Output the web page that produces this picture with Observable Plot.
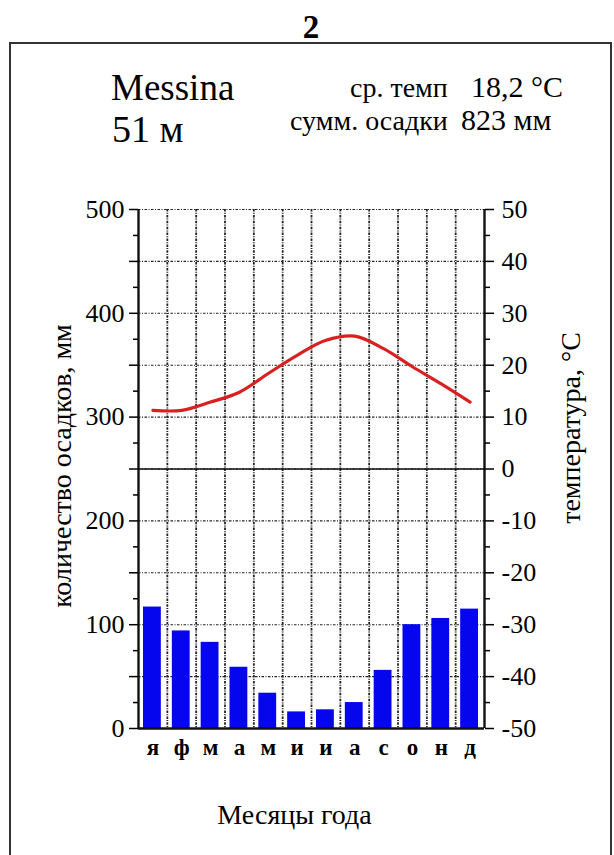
<!DOCTYPE html>
<html>
<head>
<meta charset="utf-8">
<script src="https://cdn.jsdelivr.net/npm/d3@7"></script>
<script src="https://cdn.jsdelivr.net/npm/@observablehq/plot@0.6"></script>
<style>
  html, body { margin: 0; padding: 0; background: #fff; }
  body { width: 614px; height: 855px; position: relative; overflow: hidden; font-family: "Liberation Serif", "DejaVu Serif", serif; color: #000; }
  .abs { position: absolute; white-space: nowrap; line-height: 1; font-family: "Liberation Serif", serif; }
  #box { position: absolute; left: 9px; top: 42px; width: 603px; height: 830px; border: 2px solid #333; box-sizing: border-box; }
  #chart { position: absolute; left: 0; top: 170px; }
  #chart svg, #chart svg text { font-family: "Liberation Serif", serif !important; }
</style>
</head>
<body>
<div class="abs" style="left:0;width:622px;text-align:center;top:11px;font-size:33px;font-weight:bold;">2</div>
<div id="box"></div>
<div class="abs" style="left:111px;top:69px;font-size:37px;">Messina</div>
<div class="abs" style="left:112px;top:110px;font-size:38px;">51 м</div>
<div class="abs" style="left:350px;top:74px;font-size:28px;">ср. темп</div>
<div class="abs" style="left:471px;top:72px;font-size:30px;">18,2 °C</div>
<div class="abs" style="left:290px;top:107px;font-size:28px;">сумм. осадки</div>
<div class="abs" style="left:461px;top:105px;font-size:30px;">823 мм</div>
<div id="chart"></div>
<script>
const months = ["я", "ф", "м", "а", "м", "и", "и", "а", "с", "о", "н", "д"];
const precipitation = [117, 94, 83, 59, 34, 16, 18, 25, 56, 100, 106, 115];
const temperature = [11.3, 11.3, 12.9, 14.8, 18.4, 21.9, 24.8, 25.6, 23.2, 19.7, 16.4, 12.9];
const precipTicks = [0, 100, 200, 300, 400, 500];
const tempTicks = [-50, -40, -30, -20, -10, 0, 10, 20, 30, 40, 50];

// precipitation (mm) = 5 * temperature + 250
const toMM = t => 5 * t + 250;
const fromMM = mm => (mm - 250) / 5;

const gridMM = tempTicks.map(toMM);
const minorMM = d3.range(-45, 50, 10).map(toMM);
const serif = "Liberation Serif";

const chart = Plot.plot({
  width: 614,
  height: 685,
  marginLeft: 138,
  marginRight: 130,
  marginTop: 39,
  marginBottom: 127,
  x: {domain: [0, 12], axis: null},
  y: {domain: [0, 500], axis: null},
  style: {fontFamily: serif, fontSize: "21px", color: "#000", background: "transparent", overflow: "visible"},
  marks: [
    // dotted grid
    Plot.ruleY(gridMM, {stroke: "#222", strokeWidth: 1.1, strokeDasharray: "2.5,1.5,1,1.5"}),
    Plot.ruleX(d3.range(1, 12), {stroke: "#222", strokeWidth: 1.8, strokeDasharray: "2.5,1.2,1,1.2"}),
    // precipitation bars
    Plot.rectY(precipitation, {x1: (d, i) => i, x2: (d, i) => i + 1, y1: 0, y2: d => d, fill: "#0505ee", insetLeft: 5, insetRight: 6}),
    // 0 °C line
    Plot.ruleY([toMM(0)], {stroke: "#111", strokeWidth: 1.6}),
    // axis lines
    Plot.ruleX([0, 12], {stroke: "#111", strokeWidth: 2.4}),
    Plot.ruleY([0], {stroke: "#111", strokeWidth: 2.6}),
    // left axis (precipitation)
    Plot.axisY({anchor: "left", ticks: gridMM, tickSize: 9, tickPadding: 5, strokeWidth: 1.5,
      tickFormat: d => precipTicks.includes(d) ? String(d) : "", label: null, fontSize: 26, fontFamily: serif}),
    Plot.axisY({anchor: "left", ticks: minorMM, tickSize: 5, tickPadding: 2, strokeWidth: 1.5,
      tickFormat: () => "", label: null}),
    // right axis (temperature)
    Plot.axisY({anchor: "right", ticks: gridMM, tickSize: 9, tickPadding: 8, strokeWidth: 1.5,
      tickFormat: d => String(fromMM(d)), label: null, fontSize: 26, fontFamily: serif}),
    Plot.axisY({anchor: "right", ticks: minorMM, tickSize: 5, tickPadding: 2, strokeWidth: 1.5,
      tickFormat: () => "", label: null}),
    // temperature line
    Plot.line(temperature, {x: (d, i) => i + 0.5, y: d => toMM(d), stroke: "#d82020", strokeWidth: 3.2, curve: "catmull-rom"}),
    // month labels
    Plot.text(months, {x: (d, i) => i + 0.5, frameAnchor: "bottom", dy: 26, fontSize: 23, fontWeight: "bold", fontFamily: serif, text: d => d}),
    // axis titles
    Plot.text(["количество осадков, мм"], {frameAnchor: "left", textAnchor: "middle", rotate: -90, dx: -76, dy: -3, fontSize: 28, fontFamily: serif}),
    Plot.text(["температура, °C"], {frameAnchor: "right", textAnchor: "middle", rotate: -90, dx: 87, dy: -41, fontSize: 28, fontFamily: serif}),
    Plot.text(["Месяцы года"], {frameAnchor: "bottom", textAnchor: "middle", dx: -17, dy: 95, fontSize: 28, fontFamily: serif})
  ]
});
document.getElementById("chart").append(chart);
</script>
</body>
</html>
